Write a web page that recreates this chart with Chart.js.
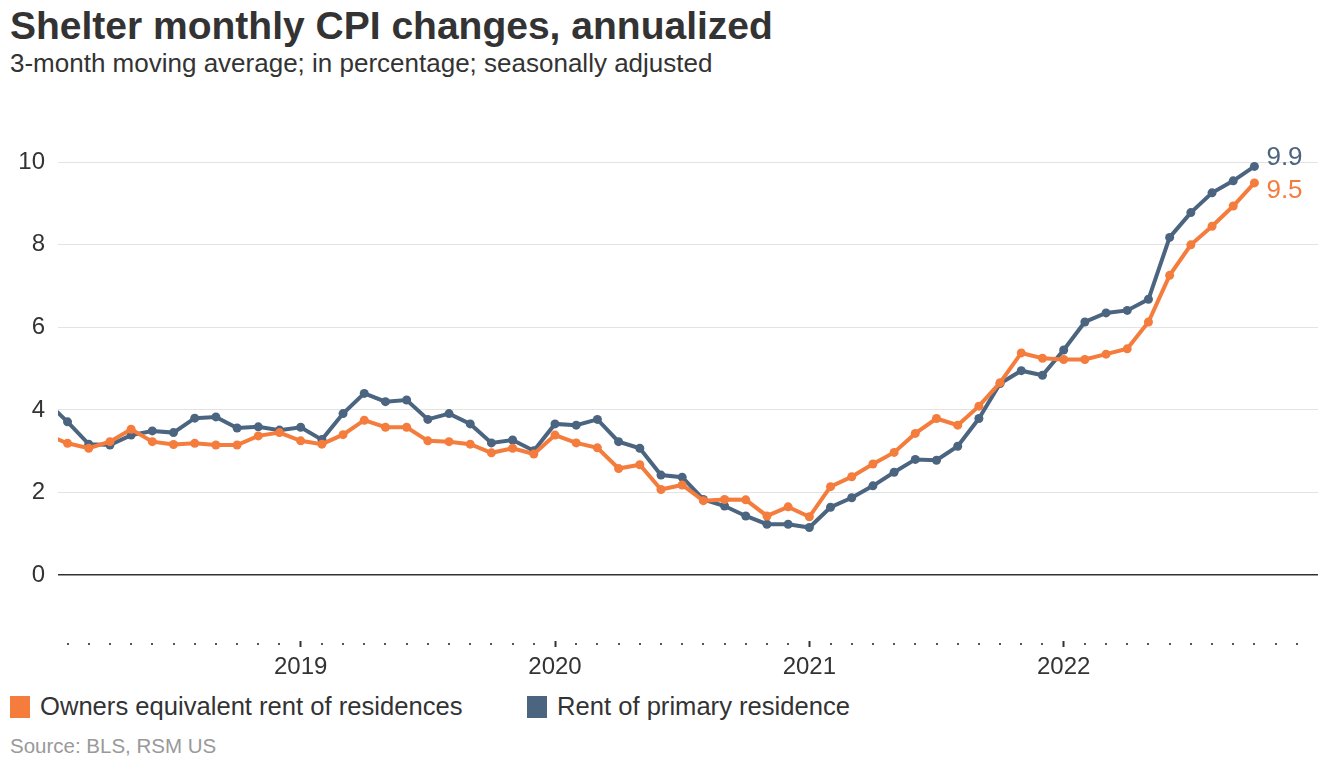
<!DOCTYPE html>
<html>
<head>
<meta charset="utf-8">
<script src="https://cdn.jsdelivr.net/npm/chart.js@4.4.1/dist/chart.umd.min.js"></script>
<style>
  html, body { margin: 0; padding: 0; background: #fff; }
  body { width: 1335px; height: 768px; position: relative; overflow: hidden;
         font-family: "Liberation Sans", Arial, sans-serif; color: #333; }
  .title { position: absolute; left: 10px; top: 4px; font-size: 39px; font-weight: bold; color: #333; line-height: 44px; }
  .subtitle { position: absolute; left: 10px; top: 48px; font-size: 26px; color: #333; line-height: 30px; }
  .chart { position: absolute; left: 0; top: 90px; width: 1335px; height: 600px; }
  .legend { position: absolute; top: 691px; left: 10px; font-size: 25.6px; color: #333; line-height: 30px; }
  .legend span.item { position: absolute; white-space: nowrap; }
  .legend i { display: inline-block; width: 20px; height: 22px; vertical-align: -3px; margin-right: 10px; }
  .source { position: absolute; left: 10px; top: 734px; font-size: 20.5px; color: #999; line-height: 24px; }
</style>
</head>
<body>
<div class="title">Shelter monthly CPI changes, annualized</div>
<div class="subtitle">3-month moving average; in percentage; seasonally adjusted</div>
<div class="chart"><canvas id="chart" width="1335" height="600"></canvas></div>
<div class="legend">
  <span class="item" style="left:0"><i style="background:#f47c3c"></i>Owners equivalent rent of residences</span>
  <span class="item" style="left:517px"><i style="background:#4b6580"></i>Rent of primary residence</span>
</div>
<div class="source">Source: BLS, RSM US</div>
<script>
// monthly, Jan 2018 .. Oct 2022
const startYear = 2018;
const months = [
  '2018-01', '2018-02', '2018-03', '2018-04', '2018-05', '2018-06', '2018-07', '2018-08', '2018-09', '2018-10', '2018-11', '2018-12',
  '2019-01', '2019-02', '2019-03', '2019-04', '2019-05', '2019-06', '2019-07', '2019-08', '2019-09', '2019-10', '2019-11', '2019-12',
  '2020-01', '2020-02', '2020-03', '2020-04', '2020-05', '2020-06', '2020-07', '2020-08', '2020-09', '2020-10', '2020-11', '2020-12',
  '2021-01', '2021-02', '2021-03', '2021-04', '2021-05', '2021-06', '2021-07', '2021-08', '2021-09', '2021-10', '2021-11', '2021-12',
  '2022-01', '2022-02', '2022-03', '2022-04', '2022-05', '2022-06', '2022-07', '2022-08', '2022-09', '2022-10',
];
const yearLabels = ['2019', '2020', '2021', '2022'];
const yTicks = [0, 2, 4, 6, 8, 10];

const ownersRent = [
  3.40, 3.19, 3.07, 3.23, 3.53, 3.23, 3.16, 3.19, 3.15, 3.15, 3.37, 3.45,
  3.25, 3.17, 3.40, 3.75, 3.58, 3.58, 3.25, 3.23, 3.17, 2.96, 3.07, 2.93,
  3.39, 3.20, 3.08, 2.58, 2.67, 2.07, 2.18, 1.80, 1.83, 1.82, 1.43, 1.65,
  1.41, 2.14, 2.38, 2.69, 2.97, 3.43, 3.79, 3.63, 4.09, 4.66, 5.38, 5.25,
  5.22, 5.22, 5.35, 5.48, 6.13, 7.26, 8.00, 8.45, 8.94, 9.50,
];
const primaryRent = [
  4.20, 3.71, 3.17, 3.15, 3.39, 3.49, 3.45, 3.80, 3.83, 3.56, 3.59, 3.51,
  3.58, 3.28, 3.91, 4.40, 4.20, 4.24, 3.77, 3.91, 3.66, 3.20, 3.27, 3.01,
  3.66, 3.63, 3.77, 3.23, 3.07, 2.42, 2.37, 1.83, 1.67, 1.43, 1.23, 1.23,
  1.15, 1.64, 1.87, 2.16, 2.49, 2.80, 2.78, 3.12, 3.79, 4.64, 4.95, 4.84,
  5.45, 6.13, 6.35, 6.41, 6.68, 8.18, 8.78, 9.26, 9.55, 9.90,
];

const orange = '#f47c3c';
const slate = '#4b6580';
const font = 'Liberation Sans, Arial, sans-serif';

const toPoints = values => values.map((v, i) => ({ x: i, y: v }));

// dots under the axis for each month
const monthDots = {
  id: 'monthDots',
  afterDraw(chart) {
    const { ctx, chartArea, scales } = chart;
    ctx.save();
    ctx.fillStyle = '#555';
    for (let i = 1; i < 60; i++) {
      if (i % 12 === 0) continue;
      const px = scales.x.getPixelForValue(i);
      ctx.fillRect(Math.round(px) - 1, chartArea.bottom + 2, 2, 2);
    }
    ctx.restore();
  },
};

// value labels at the end of each line
const endLabels = {
  id: 'endLabels',
  afterDatasetsDraw(chart) {
    const { ctx } = chart;
    const offsets = [8, -9];
    ctx.save();
    ctx.font = '26px ' + font;
    ctx.textBaseline = 'middle';
    ctx.textAlign = 'left';
    chart.data.datasets.forEach((ds, idx) => {
      const meta = chart.getDatasetMeta(idx);
      const pt = meta.data[meta.data.length - 1];
      const last = ds.data[ds.data.length - 1].y;
      ctx.fillStyle = ds.borderColor;
      ctx.fillText(last.toFixed(1), pt.x + 12, pt.y + offsets[idx]);
    });
    ctx.restore();
  },
};

new Chart(document.getElementById('chart'), {
  type: 'line',
  data: {
    datasets: [
      {
        label: 'Owners equivalent rent of residences',
        data: toPoints(ownersRent),
        borderColor: orange,
        backgroundColor: orange,
        borderWidth: 4,
        pointRadius: 4.5,
        pointBorderWidth: 0,
        tension: 0,
        clip: 0,
      },
      {
        label: 'Rent of primary residence',
        data: toPoints(primaryRent),
        borderColor: slate,
        backgroundColor: slate,
        borderWidth: 4,
        pointRadius: 4.5,
        pointBorderWidth: 0,
        tension: 0,
        clip: 0,
      },
    ],
  },
  options: {
    responsive: false,
    animation: false,
    layout: { padding: { top: 31, right: 17, left: 0, bottom: 0 } },
    plugins: {
      legend: { display: false },
      tooltip: { enabled: false },
    },
    scales: {
      x: {
        type: 'linear',
        min: 0.55,
        max: 60,
        afterBuildTicks: scale => {
          const ticks = [];
          for (let i = 1; i < 60; i++) ticks.push({ value: i });
          scale.ticks = ticks;
        },
        afterFit: scale => { scale.height = 49; },
        border: { display: false },
        grid: {
          drawOnChartArea: false,
          drawTicks: true,
          tickLength: 6,
          tickWidth: 2,
          tickColor: c => (c.tick && c.tick.value % 12 === 0 ? '#333' : 'transparent'),
        },
        ticks: {
          autoSkip: false,
          maxRotation: 0,
          padding: 6,
          color: '#333',
          font: { family: font, size: 24 },
          callback: v => {
            if (v % 12 !== 0) return '';
            const label = String(startYear + v / 12);
            return yearLabels.includes(label) ? label : '';
          },
        },
      },
      y: {
        min: -1.6,
        max: 11,
        afterBuildTicks: scale => { scale.ticks = yTicks.map(v => ({ value: v })); },
        afterFit: scale => { scale.width = 58; },
        border: { display: false },
        grid: {
          drawTicks: false,
          color: c => (c.tick && c.tick.value === 0 ? '#333' : '#e3e3e3'),
          lineWidth: c => (c.tick && c.tick.value === 0 ? 1.5 : 1),
        },
        ticks: {
          padding: 13,
          color: '#333',
          font: { family: font, size: 24 },
        },
      },
    },
  },
  plugins: [monthDots, endLabels],
});
</script>
</body>
</html>
